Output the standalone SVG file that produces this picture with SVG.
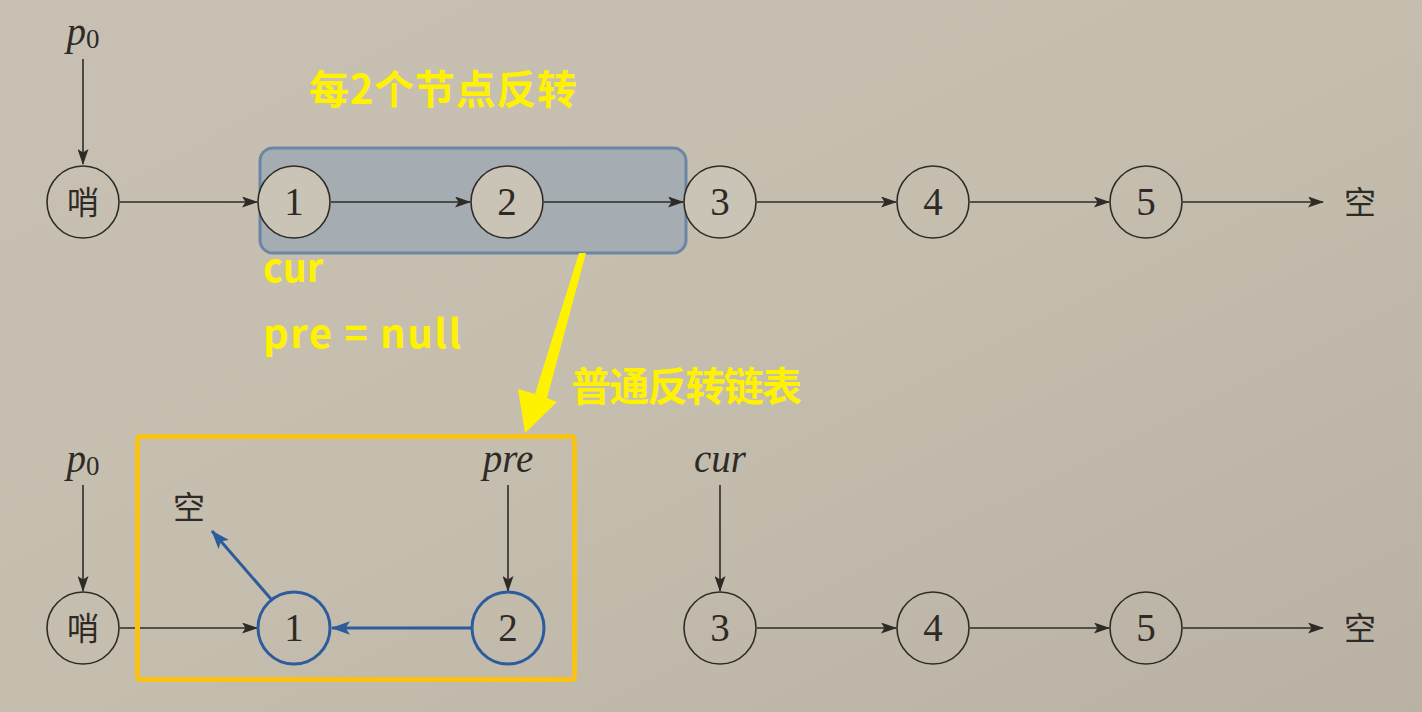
<svg xmlns="http://www.w3.org/2000/svg" width="1422" height="712" viewBox="0 0 1422 712">
<defs>
<linearGradient id="bg" x1="0" y1="0" x2="1" y2="1">
<stop offset="0" stop-color="#c8c1b3"/>
<stop offset="0.5" stop-color="#c5beaf"/>
<stop offset="1" stop-color="#b9b2a4"/>
</linearGradient>
<marker id="ah" viewBox="0 0 16 11" refX="15" refY="5.5" markerWidth="16" markerHeight="11" markerUnits="userSpaceOnUse" orient="auto">
<path d="M0,0 L16,5.5 L0,11 L3.5,5.5 z" fill="#2e2b27"/>
</marker>
<marker id="ahb" viewBox="0 0 18 13" refX="17" refY="6.5" markerWidth="19" markerHeight="14" markerUnits="userSpaceOnUse" orient="auto">
<path d="M0,0 L18,6.5 L0,13 L4,6.5 z" fill="#2c5c9c"/>
</marker>
<style>
.n{fill:none;stroke:#2e2b27;stroke-width:1.6}
.nf{fill:#cac4b7;stroke:#2e2b27;stroke-width:1.6}
.nb{fill:none;stroke:#2c5c9c;stroke-width:3}
.num{font-family:"Liberation Serif",serif;font-size:39px;fill:#2e2b27;text-anchor:middle}
.cjk{font-family:"Noto Sans CJK SC",sans-serif;font-size:32px;fill:#2e2b27;text-anchor:middle}
.math{font-family:"Liberation Serif",serif;font-style:italic;font-size:39px;fill:#2e2b27;text-anchor:middle}
.sub{font-style:normal;font-size:27px}
.c{stroke:#2e2b27;stroke-width:1.6;fill:none;marker-end:url(#ah)}
.cb{stroke:#2c5c9c;stroke-width:3;fill:none;marker-end:url(#ahb)}
.y{font-family:"Noto Sans CJK SC","Noto Sans",sans-serif;font-weight:bold;font-size:40px;fill:#fff200}
</style>
</defs>
<rect width="1422" height="712" fill="url(#bg)"/>

<g id="group-box">
<rect x="260" y="148" width="426" height="105" rx="13" fill="#97a5b3" fill-opacity="0.7" stroke="#6a85a6" stroke-width="3"/>
</g>

<g id="connectors">
<line class="c" x1="83" y1="59" x2="83" y2="164"/>
<line class="c" x1="120" y1="202" x2="257" y2="202"/>
<line class="c" x1="331" y1="202" x2="470" y2="202"/>
<line class="c" x1="544" y1="202" x2="683" y2="202"/>
<line class="c" x1="757" y1="202" x2="896" y2="202"/>
<line class="c" x1="970" y1="202" x2="1109" y2="202"/>
<line class="c" x1="1183" y1="202" x2="1323" y2="202"/>

<line class="c" x1="83" y1="485" x2="83" y2="591"/>
<line class="c" x1="120" y1="628" x2="257" y2="628"/>
<line class="cb" x1="471" y1="628" x2="332" y2="628"/>
<line class="cb" x1="271" y1="599" x2="212" y2="531"/>
<line class="c" x1="508" y1="485" x2="508" y2="591"/>
<line class="c" x1="720" y1="485" x2="720" y2="591"/>
<line class="c" x1="757" y1="628" x2="896" y2="628"/>
<line class="c" x1="970" y1="628" x2="1109" y2="628"/>
<line class="c" x1="1183" y1="628" x2="1323" y2="628"/>
</g>

<g id="top-p0"><text class="math" x="83" y="45">p<tspan class="sub" dy="3">0</tspan></text></g>
<g id="top-sentinel"><circle class="n" cx="83" cy="202" r="36"/><text class="cjk" x="83" y="214">哨</text></g>
<g id="top-n1"><circle class="nf" cx="294" cy="202" r="36"/><text class="num" x="294" y="215">1</text></g>
<g id="top-n2"><circle class="nf" cx="507" cy="202" r="36"/><text class="num" x="507" y="215">2</text></g>
<g id="top-n3"><circle class="nf" cx="720" cy="202" r="36"/><text class="num" x="720" y="215">3</text></g>
<g id="top-n4"><circle class="n" cx="933" cy="202" r="36"/><text class="num" x="933" y="215">4</text></g>
<g id="top-n5"><circle class="n" cx="1146" cy="202" r="36"/><text class="num" x="1146" y="215">5</text></g>
<g id="top-null"><text class="cjk" x="1360" y="214">空</text></g>

<g id="bot-p0"><text class="math" x="83" y="472">p<tspan class="sub" dy="3">0</tspan></text></g>
<g id="bot-sentinel"><circle class="n" cx="83" cy="628" r="36"/><text class="cjk" x="83" y="640">哨</text></g>
<g id="bot-null1"><text class="cjk" x="189" y="519">空</text></g>
<g id="bot-n1"><circle class="nb" cx="294" cy="628" r="36"/><text class="num" x="294" y="641">1</text></g>
<g id="bot-pre"><text class="math" x="508" y="472">pre</text></g>
<g id="bot-n2"><circle class="nb" cx="508" cy="628" r="36"/><text class="num" x="508" y="641">2</text></g>
<g id="bot-cur"><text class="math" x="720" y="472">cur</text></g>
<g id="bot-n3"><circle class="n" cx="720" cy="628" r="36"/><text class="num" x="720" y="641">3</text></g>
<g id="bot-n4"><circle class="n" cx="933" cy="628" r="36"/><text class="num" x="933" y="641">4</text></g>
<g id="bot-n5"><circle class="n" cx="1146" cy="628" r="36"/><text class="num" x="1146" y="641">5</text></g>
<g id="bot-null2"><text class="cjk" x="1360" y="640">空</text></g>

<g id="reverse-box">
<rect x="137.5" y="436.5" width="437" height="243" rx="3" fill="none" stroke="#f9c215" stroke-width="5"/>
</g>

<g id="annotations">
<text class="y" x="309" y="104" textLength="268" lengthAdjust="spacing">每2个节点反转</text>
<text class="y" x="263" y="282" textLength="60" lengthAdjust="spacingAndGlyphs">cur</text>
<text class="y" x="263" y="348" textLength="198" lengthAdjust="spacing">pre = null</text>
<text class="y" x="571" y="401" textLength="231" lengthAdjust="spacing">普通反转链表</text>
<polygon points="579,253 586,253 547,398 557,402 525,433 518,389 535,394" fill="#fff200"/>
</g>
</svg>
